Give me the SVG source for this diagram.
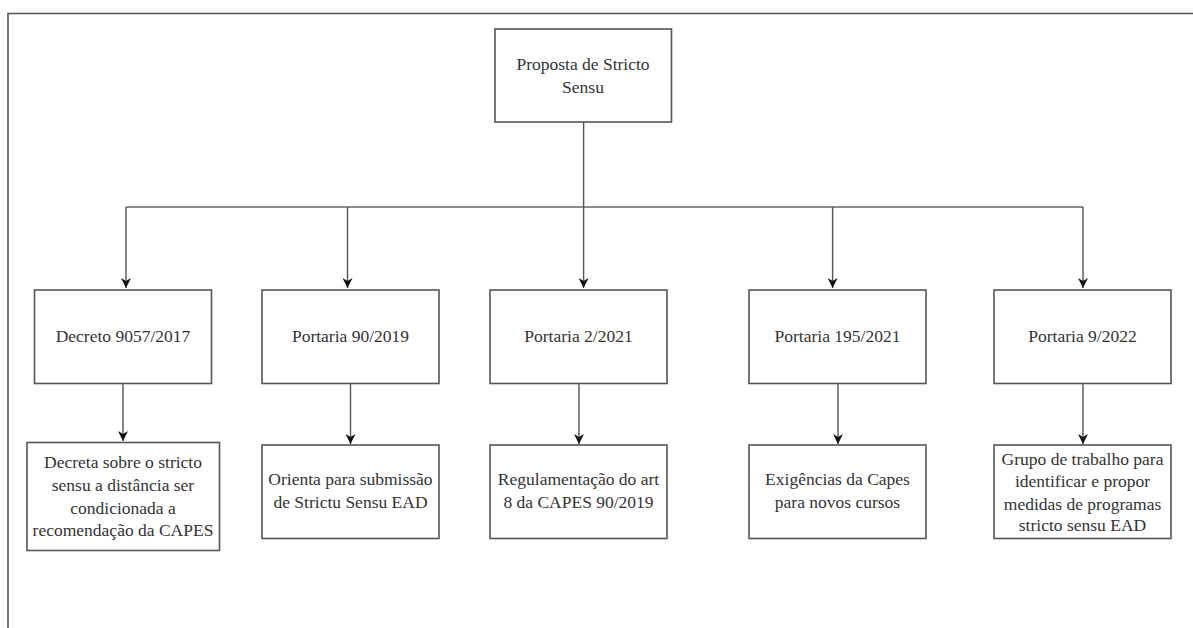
<svg xmlns="http://www.w3.org/2000/svg" width="1193" height="628" viewBox="0 0 1193 628">
<defs>
<marker id="arr" viewBox="0 0 10 10" refX="10" refY="5" markerWidth="10" markerHeight="10" markerUnits="userSpaceOnUse" orient="auto">
<path d="M0,0 L10,5 L0,10 L3,5 z" fill="#111"/>
</marker>
<style>
.box{fill:#fff;stroke:#555;stroke-width:1.6}
.ln{fill:none;stroke:#666;stroke-width:1.3}
.ar{fill:none;stroke:#555;stroke-width:1.4;marker-end:url(#arr)}
text{font-family:"Liberation Serif","Times New Roman",serif;font-size:17.5px;fill:#333;text-anchor:middle}
</style>
</defs>
<rect width="1193" height="628" fill="#fff"/>
<path d="M8,628 L8,13.5 L1193,13.5" fill="none" stroke="#555" stroke-width="1.6"/>
<g id="connectors">
<path class="ln" d="M126,207 L1083,207"/>
<path class="ar" d="M583.6,122 L583.6,288"/>
<path class="ar" d="M126,207 L126,288"/>
<path class="ar" d="M347.5,207 L347.5,288"/>
<path class="ar" d="M832.6,207 L832.6,288"/>
<path class="ar" d="M1083,207 L1083,288"/>
<path class="ar" d="M123,384 L123,441"/>
<path class="ar" d="M350.5,384 L350.5,444"/>
<path class="ar" d="M579,384 L579,444"/>
<path class="ar" d="M838,384 L838,444"/>
<path class="ar" d="M1083,384 L1083,444"/>
</g>
<g id="root">
<rect class="box" x="495" y="29" width="176.5" height="93"/>
<text x="583" y="70">Proposta de Stricto</text>
<text x="583" y="93">Sensu</text>
</g>
<g id="n1">
<rect class="box" x="34.5" y="290" width="177" height="93.5"/>
<text x="123" y="342">Decreto 9057/2017</text>
</g>
<g id="n2">
<rect class="box" x="262" y="290" width="177" height="93.5"/>
<text x="350.5" y="342">Portaria 90/2019</text>
</g>
<g id="n3">
<rect class="box" x="490" y="290" width="177" height="93.5"/>
<text x="578.5" y="342">Portaria 2/2021</text>
</g>
<g id="n4">
<rect class="box" x="749" y="290" width="177" height="93.5"/>
<text x="837.5" y="342">Portaria 195/2021</text>
</g>
<g id="n5">
<rect class="box" x="994" y="290" width="177" height="93.5"/>
<text x="1082.5" y="342">Portaria 9/2022</text>
</g>
<g id="d1">
<rect class="box" x="27" y="442.5" width="192.5" height="108"/>
<text x="123" y="468">Decreta sobre o stricto</text>
<text x="123" y="491">sensu a distância ser</text>
<text x="123" y="514">condicionada a</text>
<text x="123" y="536">recomendação da CAPES</text>
</g>
<g id="d2">
<rect class="box" x="262" y="445" width="177" height="93.5"/>
<text x="350.5" y="485">Orienta para submissão</text>
<text x="350.5" y="508">de Strictu Sensu EAD</text>
</g>
<g id="d3">
<rect class="box" x="490" y="445" width="177" height="93.5"/>
<text x="578.5" y="485">Regulamentação do art</text>
<text x="578.5" y="508">8 da CAPES 90/2019</text>
</g>
<g id="d4">
<rect class="box" x="749" y="445" width="177" height="93.5"/>
<text x="837.5" y="485">Exigências da Capes</text>
<text x="837.5" y="508">para novos cursos</text>
</g>
<g id="d5">
<rect class="box" x="994" y="445" width="177" height="93.5"/>
<text x="1082.5" y="465">Grupo de trabalho para</text>
<text x="1082.5" y="487">identificar e propor</text>
<text x="1082.5" y="510">medidas de programas</text>
<text x="1082.5" y="531">stricto sensu EAD</text>
</g>
</svg>
